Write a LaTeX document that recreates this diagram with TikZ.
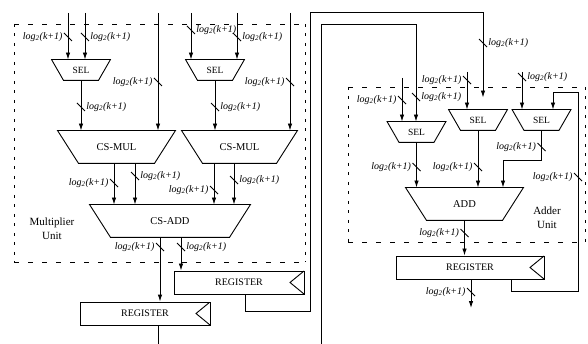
\documentclass[tikz,border=0pt]{standalone}
\usepackage{fontspec}
\setmainfont{Liberation Serif}
\usetikzlibrary{arrows.meta}
\newcommand{\lgk}{log\textsubscript{2}(k+1)}
\tikzset{
  arr/.style={-{Latex[length=7pt,width=4.5pt]}},
  trap/.style 2 args={inner sep=0pt, minimum width=#1, append after command={(\tikzlastnode.north west) edge[-, to path={-- (\tikzlastnode.north east) -- ([xshift=-#2]\tikzlastnode.south east) -- ([xshift=#2]\tikzlastnode.south west) -- cycle}] (\tikzlastnode.north west)}},
  blk/.style={trap={#1}{21pt}, minimum height=32pt, font=\fontsize{10.5}{12}\selectfont},
  selbox/.style={trap={58pt}{12pt}, minimum height=20pt, font=\fontsize{9.5}{10}\selectfont},
  regbox/.style={draw, rectangle, inner sep=0pt, minimum height=23pt, font=\fontsize{10}{12}\selectfont, path picture={\draw (path picture bounding box.north east) -- ([xshift=-14pt]path picture bounding box.east) -- (path picture bounding box.south east);}},
  bus/.style={inner sep=0pt, outer sep=0pt, minimum size=8pt, append after command={(\tikzlastnode.north west) edge[-] (\tikzlastnode.south east)}},
  lbl/.style={font=\fontsize{10}{12}\selectfont\itshape, inner sep=1pt},
  hdash/.style={dash pattern=on 5pt off 9pt},
  vdash/.style={dash pattern=on 3pt off 6.5pt},
  unit/.style={align=center, font=\fontsize{11}{14}\selectfont}
}
\begin{document}
\begin{tikzpicture}[x=1pt,y=-1pt,line width=0.9pt]
    \useasboundingbox (0,0) rectangle (588,344);
    \draw[hdash] (14,24) -- (305,24) (14,262) -- (305,262);
    \draw[vdash] (14,24) -- (14,262) (305,24) -- (305,262);
    \draw[hdash] (348,87) -- (585,87) (348,242) -- (585,242);
    \draw[vdash] (348,87) -- (348,242) (585,87) -- (585,242);
    \node[unit] (mu) at (52,229) {Multiplier\\Unit};
    \node[unit] (au) at (547,218) {Adder\\Unit};
    \node[selbox] (sel1) at (81,70) {SEL};
    \node[selbox] (sel2) at (215,70) {SEL};
    \node[blk=117pt] (mul1) at (116.5,147) {CS-MUL};
    \node[blk=115pt] (mul2) at (239.5,147) {CS-MUL};
    \node[blk=160pt] (cadd) at (170,221) {CS-ADD};
    \node[regbox, minimum width=130pt] (reg1) at (145,313.5) {REGISTER\hspace{13pt}};
    \node[regbox, minimum width=130pt] (reg2) at (239,282.5) {REGISTER\hspace{13pt}};
    \node[selbox] (sel3) at (416.5,132) {SEL};
    \node[selbox] (sel4) at (478,120) {SEL};
    \node[selbox] (sel5) at (541.5,120) {SEL};
    \node[blk=117pt] (add) at (464.5,204) {ADD};
    \node[regbox, minimum width=148pt] (reg3) at (470,267.5) {REGISTER\hspace{13pt}};
    \coordinate (i1) at (68,13);
    \coordinate (i2) at (85,13);
    \coordinate (i3) at (158,13);
    \coordinate (i4) at (191,13);
    \coordinate (i5) at (237,13);
    \coordinate (i6) at (290,13);
    \coordinate (i7) at (402,78);
    \coordinate (i8) at (467,72);
    \coordinate (i9) at (522,72);
    \coordinate (o1) at (158,344);
    \coordinate (o2) at (471,308);
    \coordinate (fb1) at (321,344);
    \coordinate (c2) at (416,24);
    \coordinate (l1) at (245,311);
    \coordinate (c3) at (310,12);
    \coordinate (c4) at (483,12);
    \coordinate (l3) at (511,291);
    \coordinate (c5) at (578,92);
    \coordinate (c6) at (553,92);
    \coordinate (c7) at (503,160);
    \node[bus, label={[lbl]left:\lgk}] (s1) at (68,37) {};
    \node[bus, label={[lbl]right:\lgk}] (s2) at (85,37) {};
    \node[bus, label={[lbl]left:\lgk}] (s3) at (158,82) {};
    \node[bus, label={[lbl]right:\lgk}] (s4) at (81,107) {};
    \node[bus, label={[lbl]right:\lgk}] (s5) at (191,30) {};
    \node[bus, label={[lbl]right:\lgk}] (s6) at (237,37) {};
    \node[bus, label={[lbl]left:\lgk}] (s7) at (290,82) {};
    \node[bus, label={[lbl]right:\lgk}] (s8) at (215,107) {};
    \node[bus, label={[lbl]left:\lgk}] (s9) at (114,183) {};
    \node[bus, label={[lbl]right:\lgk}] (s10) at (135,176) {};
    \node[bus, label={[lbl]left:\lgk}] (s11) at (214,190) {};
    \node[bus, label={[lbl]right:\lgk}] (s12) at (234,180) {};
    \node[bus, label={[lbl]left:\lgk}] (s13) at (160,247) {};
    \node[bus, label={[lbl]right:\lgk}] (s14) at (181,247) {};
    \node[bus, label={[lbl]right:\lgk}] (s15) at (483,43) {};
    \node[bus, label={[lbl]right:\lgk}] (s16) at (416,97) {};
    \node[bus, label={[lbl]left:\lgk}] (s17) at (402,100) {};
    \node[bus, label={[lbl]left:\lgk}] (s18) at (467,80) {};
    \node[bus, label={[lbl]right:\lgk}] (s19) at (522,77) {};
    \node[bus, label={[lbl]left:\lgk}] (s20) at (578,177) {};
    \node[bus, label={[lbl]left:\lgk}] (s21) at (416.5,167) {};
    \node[bus, label={[lbl]left:\lgk}] (s22) at (478,167) {};
    \node[bus, label={[lbl]left:\lgk}] (s23) at (541.5,147) {};
    \node[bus, label={[lbl]left:\lgk}] (s24) at (464.5,233) {};
    \node[bus, label={[lbl]left:\lgk}] (s25) at (471,292) {};
    \draw[arr] (i1) -- (i1 |- sel1.north);
    \draw[arr] (i2) -- (i2 |- sel1.north);
    \draw[arr] (i3) -- (i3 |- mul1.north);
    \draw[arr] (i4) -- (i4 |- sel2.north);
    \draw[arr] (i5) -- (i5 |- sel2.north);
    \draw[arr] (i6) -- (i6 |- mul2.north);
    \draw[arr] (sel1.south) -- (sel1.south |- mul1.north);
    \draw[arr] (sel2.south) -- (sel2.south |- mul2.north);
    \draw[arr] (s9 |- mul1.south) -- (s9 |- cadd.north);
    \draw[arr] (s10 |- mul1.south) -- (s10 |- cadd.north);
    \draw[arr] (s11 |- mul2.south) -- (s11 |- cadd.north);
    \draw[arr] (s12 |- mul2.south) -- (s12 |- cadd.north);
    \draw[arr] (s13 |- cadd.south) -- (s13 |- reg1.north);
    \draw[arr] (s14 |- cadd.south) -- (s14 |- reg2.north);
    \draw (o1 |- reg1.south) -- (o1);
    \draw[arr, shorten >=12pt] (l1 |- reg2.south) -- (l1) -| (c3) -- (c4) -- (c4 |- sel4.north);
    \draw[arr] (fb1) |- (c2) -- (c2 |- sel3.north);
    \draw[arr] (i7) -- (i7 |- sel3.north);
    \draw[arr] (i8) -- (i8 |- sel4.north);
    \draw[arr] (i9) -- (i9 |- sel5.north);
    \draw[arr] (l3 |- reg3.south) -- (l3) -| (c5) -- (c6) -- (c6 |- sel5.north);
    \draw[arr] (sel3.south) -- (sel3.south |- add.north);
    \draw[arr] (sel4.south) -- (sel4.south |- add.north);
    \draw[arr] (sel5.south) |- (c7) -- (c7 |- add.north);
    \draw[arr] (add.south) -- (add.south |- reg3.north);
    \draw[arr] (o2 |- reg3.south) -- (o2);
\end{tikzpicture}
\end{document}
